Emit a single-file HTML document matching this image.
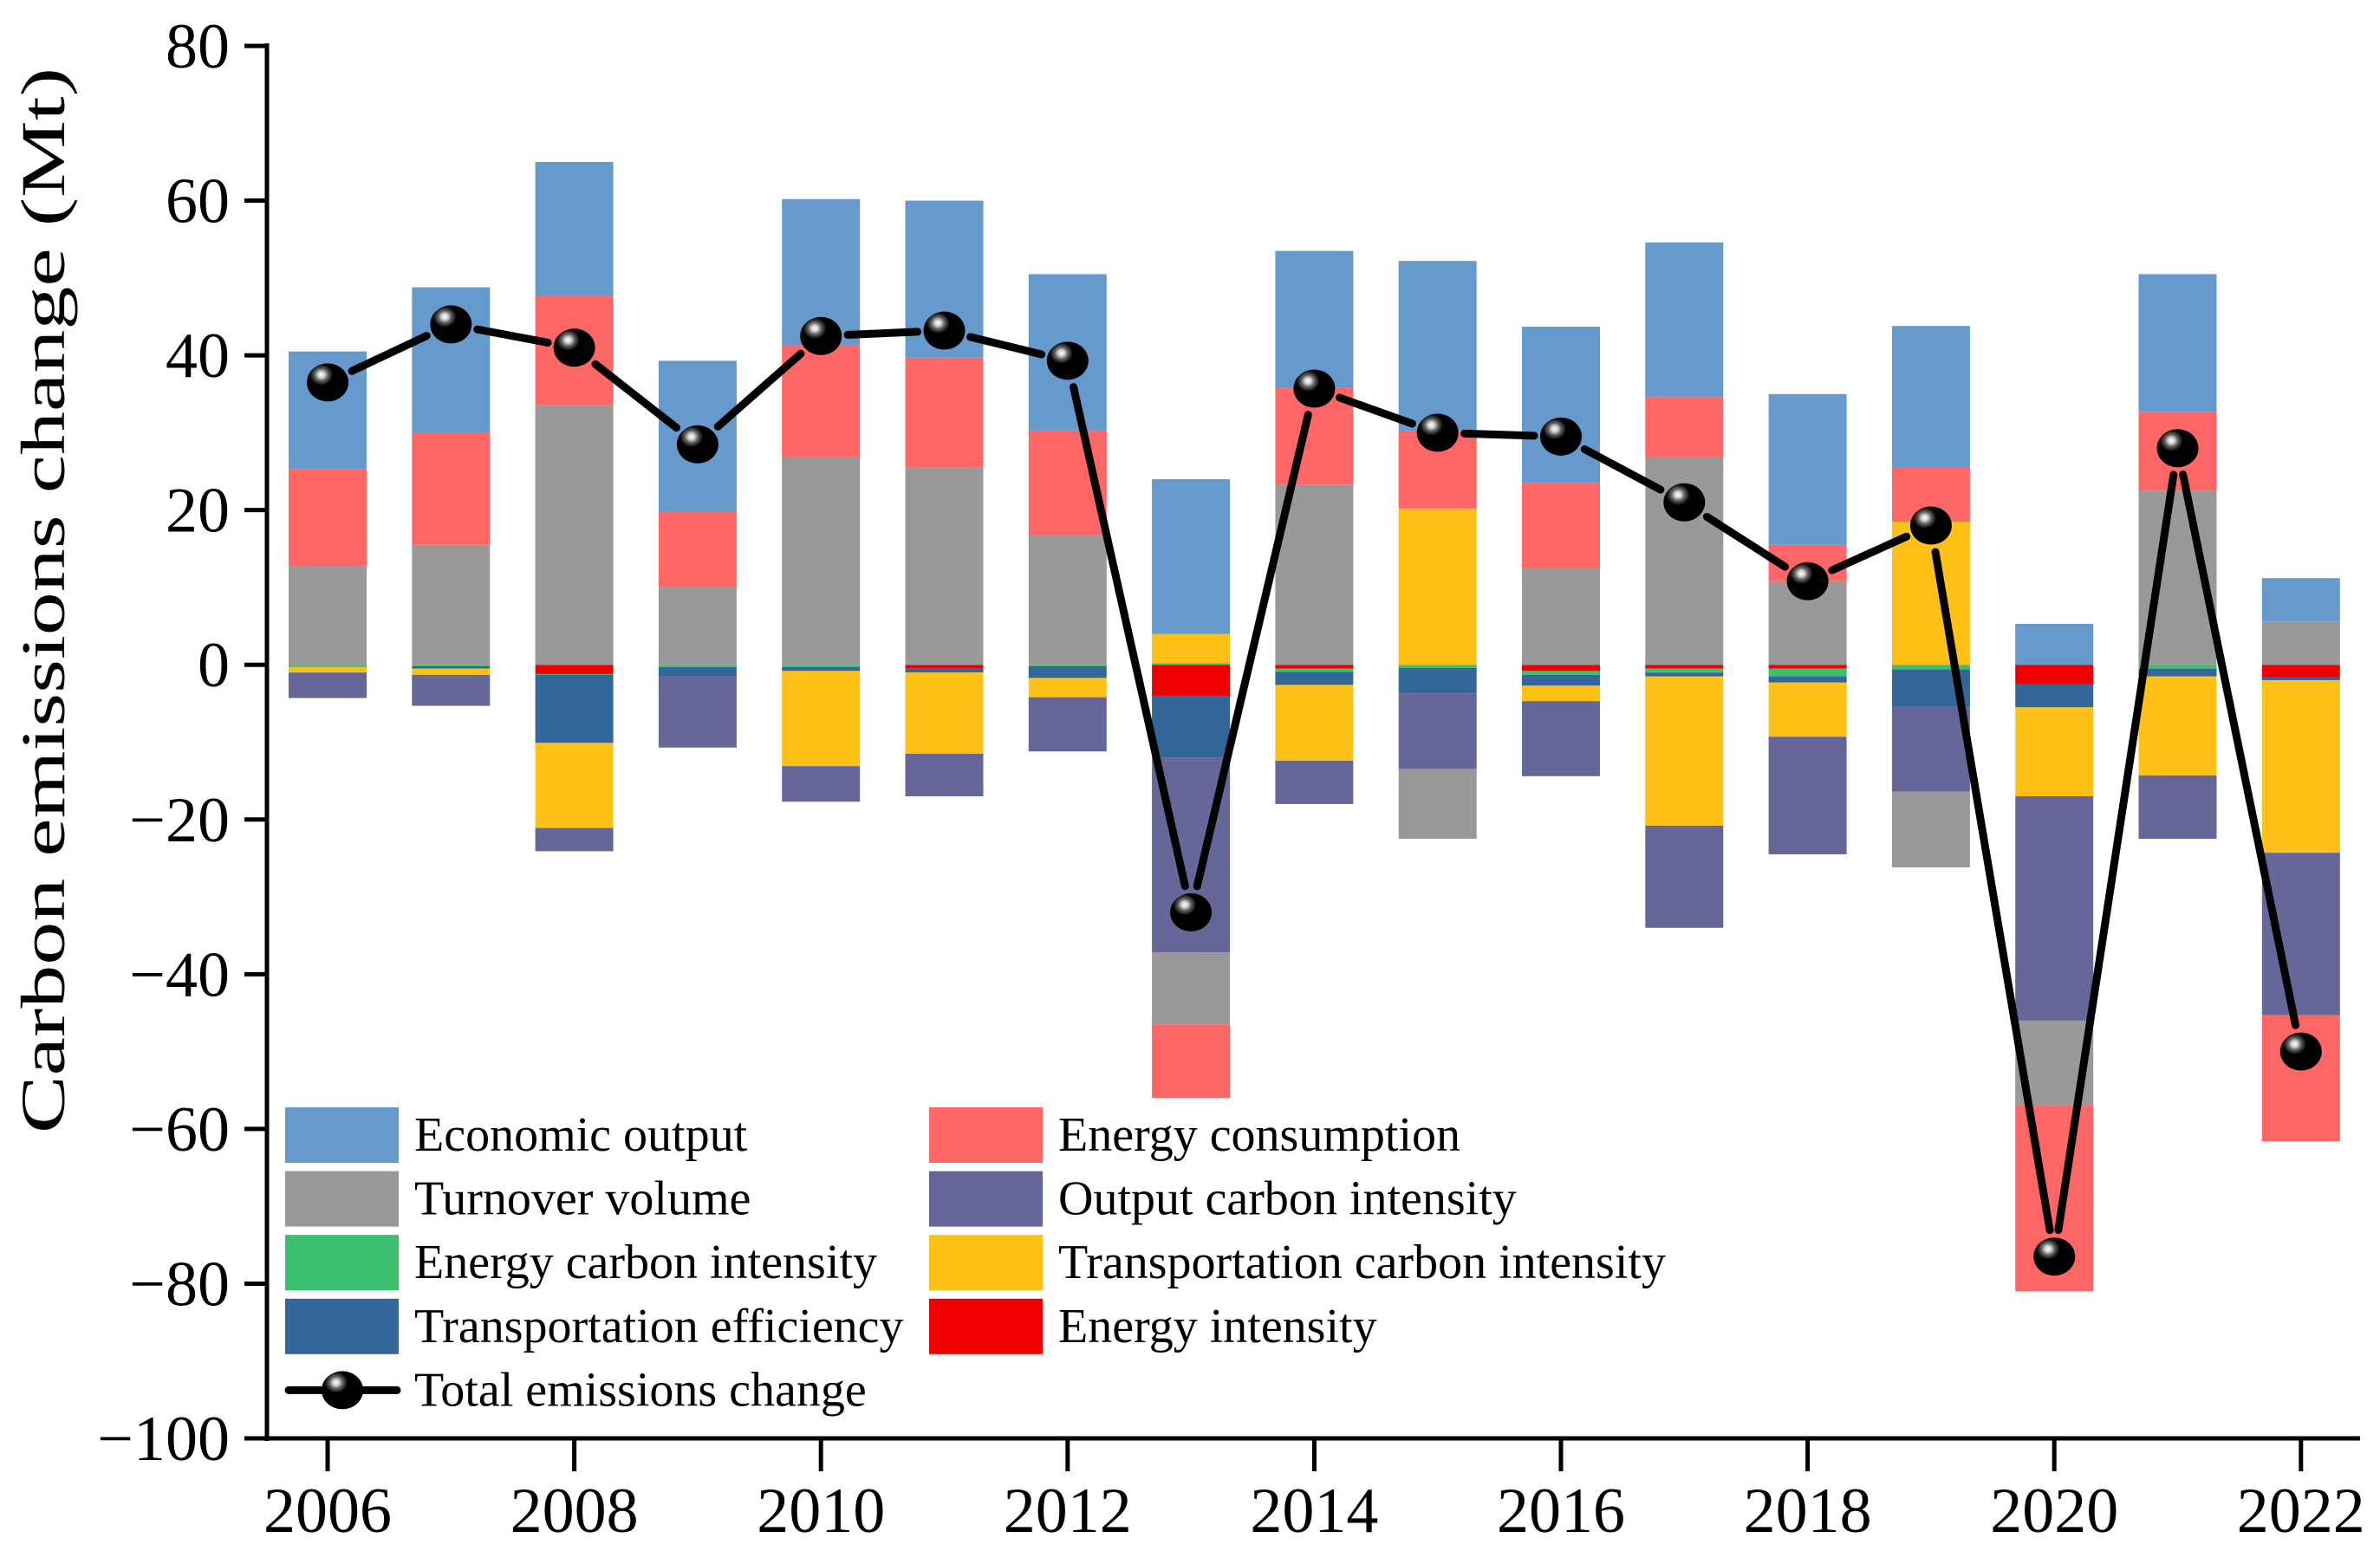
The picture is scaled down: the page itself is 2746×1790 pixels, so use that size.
<!DOCTYPE html>
<html><head><meta charset="utf-8">
<style>
html,body{margin:0;padding:0;background:#fff;}
svg{display:block;font-family:"Liberation Serif",serif;}
</style></head>
<body>
<svg id="chart" width="2746" height="1790" viewBox="0 0 2746 1790" xmlns="http://www.w3.org/2000/svg">
<defs>
<radialGradient id="ball" cx="0.35" cy="0.3" r="0.7">
<stop offset="0" stop-color="#fff"/>
<stop offset="0.12" stop-color="#ccc"/>
<stop offset="0.22" stop-color="#666"/>
<stop offset="0.4" stop-color="#000"/>
<stop offset="1" stop-color="#000"/>
</radialGradient>
</defs>
<g id="bars"></g>
<g id="line"></g>
<g id="axes"></g>
<g id="legend"></g>
<text transform="translate(74,693) rotate(-90)" text-anchor="middle" font-size="72" font-weight="normal" textLength="1230" lengthAdjust="spacingAndGlyphs">Carbon emissions change (Mt)</text>
</svg>
<script>
const years = [2006,2007,2008,2009,2010,2011,2012,2013,2014,2015,2016,2017,2018,2019,2020,2021,2022];
const energyIntensity   = [0,0,-1.2,0,0,-0.5,0,-4,-0.5,0,-0.8,-0.5,-0.5,0,-2.5,0,-1.6];
const energyCarbon      = [-0.3,-0.2,-0.1,-0.3,-0.3,0,-0.2,0.2,-0.4,-0.4,-0.5,-0.5,-1,-0.6,0,-0.5,0];
const transportEff      = [0,-0.3,-8.8,-1.2,-0.5,-0.5,-1.5,-8,-1.7,-3.3,-1.4,-0.5,-0.8,-4.8,-3,-1,-0.4];
const transportCarbon   = [-0.7,-0.8,-11,0,-12.3,-10.5,-2.5,3.8,-9.8,20.2,-2,-19.3,-7,18.5,-11.5,-12.8,-22.3];
const outputCarbon      = [-3.3,-4.0,-3,-9.2,-4.6,-5.5,-7,-25.2,-5.6,-9.8,-9.7,-13.2,-15.2,-11,-29,-8.2,-21];
const turnoverVolume    = [12.8,15.5,33.5,10,26.8,25.5,16.7,-9.3,23.3,-9,12.5,26.8,10.8,-9.8,-11,22.5,5.6];
const energyConsumption = [12.5,14.5,14.2,9.8,14.5,14.2,13.6,-9.5,12.5,10,11,7.8,4.7,7,-24,10.2,-16.3];
const economicOutput    = [15.2,18.8,17.3,19.5,18.9,20.3,20.2,20,17.7,22,20.2,20,19.5,18.3,5.3,17.8,5.6];
const totalChange       = [36.5,44,41,28.5,42.5,43.2,39.3,-32,35.7,30,29.5,21,10.8,18,-76.5,28,-50];
const yTicks = [80,60,40,20,0,-20,-40,-60,-80,-100];
const xTicks = [2006,2008,2010,2012,2014,2016,2018,2020,2022];

const NS="http://www.w3.org/2000/svg";
const yMin=-100,yMax=80,yTopPx=53,yBotPx=1660;
function Y(v){return yTopPx+(yMax-v)*(yBotPx-yTopPx)/(yMax-yMin);}
function X(yr){return 378+(yr-2006)*142.3;}
const barW=90;
function mk(tag,attrs,parent){const e=document.createElementNS(NS,tag);for(const k in attrs)e.setAttribute(k,attrs[k]);parent.appendChild(e);return e;}

const series=[
 {name:'energy-intensity',vals:energyIntensity,color:'#EE0000'},
 {name:'energy-carbon-intensity',vals:energyCarbon,color:'#3CBF6E'},
 {name:'transportation-efficiency',vals:transportEff,color:'#336699'},
 {name:'transportation-carbon-intensity',vals:transportCarbon,color:'#FFC117'},
 {name:'output-carbon-intensity',vals:outputCarbon,color:'#666699'},
 {name:'turnover-volume',vals:turnoverVolume,color:'#999999'},
 {name:'energy-consumption',vals:energyConsumption,color:'#FF6666'},
 {name:'economic-output',vals:economicOutput,color:'#6699CC'}
];
const gB=document.getElementById('bars');
years.forEach((yr,i)=>{
  let pos=0,neg=0;
  series.forEach(s=>{
    const v=s.vals[i]; if(!v)return;
    let a,b;
    if(v>0){a=pos;b=pos+v;pos=b;}else{a=neg;b=neg+v;neg=b;}
    const y1=Y(Math.max(a,b)),y2=Y(Math.min(a,b));
    const r=mk('rect',{x:X(yr)-barW/2,y:y1,width:barW,height:Math.max(y2-y1,1),fill:s.color},gB);
    
    
  });
});

const gL=document.getElementById('line');
const R=23;
for(let i=0;i<years.length-1;i++){
  const x1=X(years[i]),y1=Y(totalChange[i]),x2=X(years[i+1]),y2=Y(totalChange[i+1]);
  const dx=x2-x1,dy=y2-y1,L=Math.hypot(dx,dy),ux=dx/L,uy=dy/L,g=R+8;
  const l=mk('line',{x1:x1+ux*g,y1:y1+uy*g,x2:x2-ux*g,y2:y2-uy*g,stroke:'#000','stroke-width':9,'stroke-linecap':'round'},gL);
  
  
}
years.forEach((yr,i)=>{
  const c=mk('ellipse',{cx:X(yr),cy:Y(totalChange[i]),rx:R+1,ry:R-1,fill:'url(#ball)'},gL);
  
  
});

const gA=document.getElementById('axes');
const ySp=mk('line',{x1:308,y1:50,x2:308,y2:yBotPx+3,stroke:'#000','stroke-width':5},gA);


const xSp=mk('line',{x1:282,y1:yBotPx,x2:2723,y2:yBotPx,stroke:'#000','stroke-width':5},gA);


yTicks.forEach(v=>{
  const t=mk('line',{x1:282,y1:Y(v),x2:308,y2:Y(v),stroke:'#000','stroke-width':5},gA);
  
  
  const tx=mk('text',{x:265,y:Y(v)+25,'text-anchor':'end','font-size':74},gA);
  tx.textContent=v<0?'\u2212'+Math.abs(v):String(v);
  
  
});
xTicks.forEach(yr=>{
  const t=mk('line',{x1:X(yr),y1:yBotPx,x2:X(yr),y2:yBotPx+38,stroke:'#000','stroke-width':5},gA);
  
  
  const tx=mk('text',{x:X(yr),y:1768,'text-anchor':'middle','font-size':74},gA);
  tx.textContent=String(yr);
  
  
});

const gG=document.getElementById('legend');
const legItems=[
 ['Economic output','#6699CC',0,0],['Energy consumption','#FF6666',1,0],
 ['Turnover volume','#999999',0,1],['Output carbon intensity','#666699',1,1],
 ['Energy carbon intensity','#3CBF6E',0,2],['Transportation carbon intensity','#FFC117',1,2],
 ['Transportation efficiency','#336699',0,3],['Energy intensity','#EE0000',1,3]
];
const colX=[329,1072],row0=1310,rowH=73.6;
legItems.forEach(([lab,col,c,r])=>{
  const cy=row0+r*rowH;
  const rc=mk('rect',{x:colX[c],y:cy-32,width:131,height:64,fill:col},gG);
  
  
  const tx=mk('text',{x:colX[c]+149,y:cy+18,'font-size':56},gG);
  tx.textContent=lab;
  
  
});
const cyT=row0+4*rowH;
const ll=mk('line',{x1:333,y1:cyT,x2:458,y2:cyT,stroke:'#000','stroke-width':9,'stroke-linecap':'round'},gG);


const lm=mk('ellipse',{cx:395,cy:cyT,rx:24,ry:22,fill:'url(#ball)'},gG);


const lt=mk('text',{x:478,y:cyT+18,'font-size':56},gG);
lt.textContent='Total emissions change';


</script>
</body></html>
